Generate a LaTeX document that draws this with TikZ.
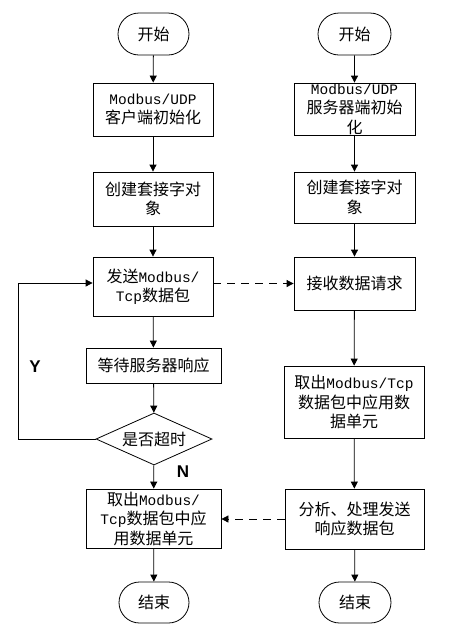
\documentclass[tikz,border=0pt]{standalone}
\usepackage{fontspec}
\setmainfont{Noto Sans CJK SC}
\newfontfamily\mono{Liberation Mono}
\newfontfamily\lab{Liberation Sans}
\usetikzlibrary{arrows.meta,shapes.geometric,shapes.misc}
\newcommand{\M}[1]{{\mono\fontsize{14.5}{19}\selectfont #1}}
\begin{document}
\begin{tikzpicture}[x=1pt,y=-1pt,
  box/.style={draw,line width=0.8pt,inner sep=0pt,align=center,
    font={\fontsize{16}{19.5}\selectfont}},
  term/.style={draw,line width=0.8pt,rounded rectangle,inner sep=0pt,
    font={\fontsize{16}{19}\selectfont}},
  dia/.style={draw,line width=0.8pt,diamond,aspect=2.2,inner sep=0pt,
    font={\fontsize{16}{19}\selectfont}},
  arr/.style={line width=0.8pt,-{Triangle[length=7pt,width=7pt]}},
  darr/.style={arr,dash pattern=on 8pt off 6pt},
  yn/.style={font={\lab\bfseries\fontsize{17}{17}\selectfont}}]
\useasboundingbox (0,0) rectangle (455,638);
% left column
\node[term,minimum width=71pt,minimum height=42pt] (s1) at (153.5,34) {开始};
\node[box,minimum width=120pt,minimum height=53pt] (b1) at (153,109.5) {\M{Modbus/UDP}\\客户端初始化};
\node[box,minimum width=120pt,minimum height=54pt] (b2) at (153,199) {创建套接字对\\象};
\node[box,minimum width=120pt,minimum height=59pt] (b3) at (153,286.5) {发送\M{Modbus/}\\\M{Tcp}数据包};
\node[box,minimum width=135pt,minimum height=35pt] (b4) at (153.5,365.5) {等待服务器响应};
\node[dia,minimum width=116pt,minimum height=52pt] (d1) at (154,439) {是否超时};
\node[box,minimum width=135pt,minimum height=59pt] (b5) at (153.5,518.5) {取出\M{Modbus/}\\\M{Tcp}数据包中应\\用数据单元};
\node[term,minimum width=70pt,minimum height=41pt] (e1) at (154,602.5) {结束};
% right column
\node[term,minimum width=73pt,minimum height=42pt] (s2) at (354.5,34) {开始};
\node[box,minimum width=121pt,minimum height=52pt] (r1) at (354.5,109) {\M{Modbus/UDP}\\服务器端初始\\化};
\node[box,minimum width=121pt,minimum height=51pt] (r2) at (354.5,197.5) {创建套接字对\\象};
\node[box,minimum width=121pt,minimum height=53pt] (r3) at (354.5,283.5) {接收数据请求};
\node[box,minimum width=140pt,minimum height=72pt] (r4) at (354,402) {取出\M{Modbus/Tcp}\\数据包中应用数\\据单元};
\node[box,minimum width=139pt,minimum height=60pt] (r5) at (354.5,519) {分析、处理发送\\响应数据包};
\node[term,minimum width=72pt,minimum height=41pt] (e2) at (355,602.5) {结束};
% labels
\node[yn] (ylab) at (35,367) {Y};
\node[yn] (nlab) at (183,472) {N};
% connectors left
\draw[arr] (s1) -- (b1);
\draw[arr] (b1) -- (b2);
\draw[arr] (b2) -- (b3);
\draw[arr] (b3) -- (b4);
\draw[arr] (b4) -- (d1);
\draw[arr] (d1) -- (b5);
\draw[arr] (b5) -- (e1);
\coordinate (lp) at (18,283);
\draw[arr] (d1.west) -| (lp) -- (b3.west |- lp);
% connectors right
\draw[arr] (s2) -- (r1);
\draw[arr] (r1) -- (r2);
\draw[arr] (r2) -- (r3);
\draw[arr] (r3) -- (r4);
\draw[arr] (r4) -- (r5);
\draw[arr] (r5) -- (e2);
% dashed
\draw[darr] (b3.east |- r3.west) -- (r3.west);
\draw[darr] (r5.west) -- (b5.east |- r5.west);
\end{tikzpicture}
\end{document}
